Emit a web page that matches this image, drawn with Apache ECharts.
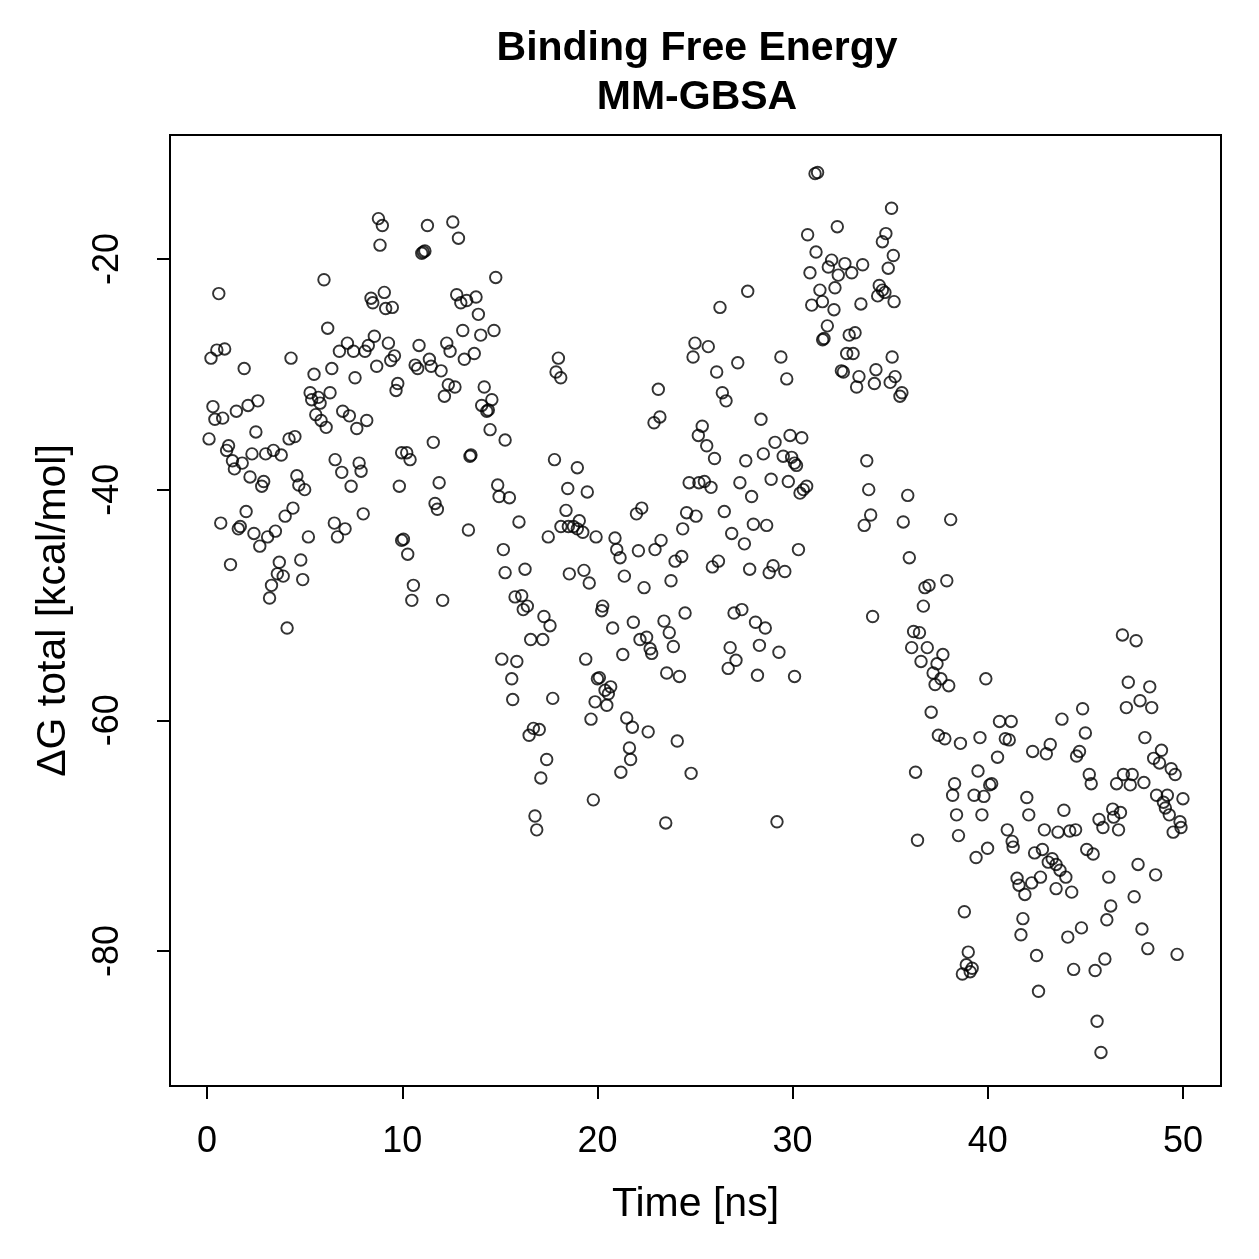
<!DOCTYPE html>
<html>
<head>
<meta charset="utf-8">
<title>Binding Free Energy MM-GBSA</title>
<script src="https://cdn.jsdelivr.net/npm/echarts@6/dist/echarts.min.js"></script>
<style>
  html, body { margin: 0; padding: 0; background: #fff; }
  #chart { width: 1259px; height: 1259px; }
</style>
</head>
<body>
<div id="chart"></div>
<script>
// simulation time [ns] and total binding free energy [kcal/mol]
const timeNs = [
  0.1, 0.2, 0.3, 0.4, 0.5, 0.6, 0.7, 0.8, 0.9, 1.0,
  1.1, 1.2, 1.3, 1.4, 1.5, 1.6, 1.7, 1.8, 1.9, 2.0,
  2.1, 2.2, 2.3, 2.4, 2.5, 2.6, 2.7, 2.8, 2.9, 3.0,
  3.1, 3.2, 3.3, 3.4, 3.5, 3.6, 3.7, 3.8, 3.9, 4.0,
  4.1, 4.2, 4.3, 4.4, 4.5, 4.6, 4.7, 4.8, 4.9, 5.0,
  5.19, 5.28, 5.36, 5.48, 5.57, 5.70, 5.79, 5.84, 5.99, 6.10,
  6.18, 6.30, 6.39, 6.52, 6.56, 6.68, 6.78, 6.90, 6.95, 7.07,
  7.19, 7.29, 7.38, 7.50, 7.58, 7.67, 7.79, 7.89, 8.00, 8.09,
  8.18, 8.26, 8.40, 8.49, 8.57, 8.69, 8.78, 8.86, 8.98, 9.08,
  9.15, 9.29, 9.41, 9.49, 9.60, 9.68, 9.77, 9.85, 9.97, 9.97,
  10.06, 10.23, 10.28, 10.40, 10.49, 10.57, 10.66, 10.79, 10.86, 11.00,
  11.08, 11.16, 11.29, 11.39, 11.48, 11.59, 11.68, 11.80, 11.89, 11.99,
  12.07, 12.16, 12.28, 12.36, 12.45, 12.59, 12.70, 12.79, 12.88, 13.00,
  13.10, 13.18, 13.30, 13.39, 13.47, 13.52, 13.69, 13.78, 13.90, 14.02,
  14.07, 14.20, 14.33, 14.41, 14.50, 14.59, 14.70, 14.79, 14.89, 14.96,
  15.27,
  15.10, 15.18, 15.27, 15.49, 15.61, 15.66, 15.78, 15.87, 15.98, 16.12,
  16.20, 16.29, 16.41, 16.50, 16.58, 16.72, 16.80, 16.89, 17.02, 17.10,
  17.20, 17.26, 17.40, 17.48, 17.57, 17.71, 17.80, 17.88, 18.00, 18.12,
  18.13, 18.39, 18.48, 18.51, 18.56, 18.77, 18.97, 18.97, 19.07, 19.25,
  19.31, 19.40, 19.48, 19.58, 19.67, 19.79, 19.88, 19.93, 20.00,
  20.10, 20.22, 20.27, 20.39, 20.48, 20.56, 20.68, 20.78, 20.90,
  20.99, 21.16, 21.20, 21.30, 21.38, 21.50, 21.64, 21.70, 21.79, 21.84,
  22.00, 22.10, 22.18, 22.27, 22.39, 22.52, 22.60, 22.70, 22.78, 22.90,
  22.95, 23.12, 23.20, 23.26, 23.41, 23.50, 23.55, 23.68, 23.77, 23.89,
  23.98, 24.09, 24.20, 24.32, 24.37, 24.49, 24.57, 24.70, 24.80, 24.90,
  25.00, 25.05, 25.20,
  25.17, 25.37, 25.48, 25.60, 25.68, 25.82, 25.89, 26.00, 26.11, 26.20,
  26.28, 26.40, 26.50, 26.59, 26.70, 26.80, 26.88, 27.00, 27.10, 27.19,
  27.30, 27.40, 27.53, 27.60, 27.70, 27.80, 27.90, 27.99, 28.10, 28.20,
  28.30, 28.38, 28.50, 28.60, 28.67, 28.80, 28.90, 29.00, 29.10, 29.20,
  29.30, 29.40, 29.52, 29.60, 29.70, 29.78, 29.87, 29.95, 30.10, 30.10,
  30.20, 30.30, 30.38, 30.47, 30.55, 30.72, 30.77, 30.89, 30.98, 31.15,
  31.28, 31.20, 31.40, 31.53, 31.54, 31.61, 31.78, 31.83, 32.00, 32.12,
  32.17, 32.29, 32.34, 32.50, 32.60, 32.68, 32.77, 32.90, 33.03, 33.10,
  33.20, 33.28, 33.40, 33.50, 33.59, 33.67, 33.80, 33.90, 34.00, 34.10,
  34.19, 34.27, 34.36, 34.44, 34.60, 34.60, 34.73, 34.78, 34.90, 35.00,
  35.07, 35.10, 35.16, 35.20, 35.25,
  35.50, 35.60, 35.67, 35.90, 35.98, 36.10, 36.20, 36.30, 36.40, 36.50,
  36.58, 36.70, 36.78, 36.90, 36.99, 37.10, 37.20, 37.30, 37.40, 37.47,
  37.60, 37.70, 37.80, 37.90, 38.00, 38.10, 38.20, 38.30, 38.40, 38.50,
  38.60, 38.70, 38.80, 38.90, 39.00, 39.10, 39.20, 39.30, 39.40, 39.50,
  39.60, 39.70, 39.80, 39.90, 39.99, 40.10, 40.20,
  40.50, 40.60, 40.90, 41.00, 41.10, 41.20, 41.25, 41.30, 41.50, 41.60,
  41.70, 41.80, 41.90, 42.00, 42.10, 42.25, 42.30, 42.40, 42.50, 42.60,
  42.70, 42.80, 42.90, 43.00, 43.10, 43.20, 43.30, 43.50, 43.50, 43.60,
  43.70, 43.80, 43.90, 44.00, 44.10, 44.20, 44.30, 44.40, 44.50, 44.55,
  44.70, 44.80, 44.86, 45.00,
  45.07, 45.20, 45.30, 45.40, 45.50, 45.60, 45.70, 45.80, 45.90, 46.00,
  46.10, 46.20, 46.30, 46.40, 46.45, 46.60, 46.70, 46.80, 46.90, 46.95,
  47.10, 47.20, 47.30, 47.40, 47.50, 47.60, 47.70, 47.80, 47.90, 48.00,
  48.05, 48.20, 48.30, 48.40, 48.50, 48.60, 48.65, 48.80, 48.90, 49.00,
  49.10, 49.20, 49.30, 49.40, 49.50, 49.60, 49.70, 49.85, 49.90, 50.00
]

const deltaG = [
  -35.6, -28.6, -32.8, -33.9, -27.9, -23.0, -42.9, -33.8, -27.8, -36.6,
  -36.2, -46.5, -37.5, -38.2, -33.2, -43.4, -43.2, -37.7, -29.5, -41.9,
  -32.7, -38.9, -36.9, -43.8, -35.0, -32.3, -44.9, -39.7, -39.3, -36.9,
  -44.1, -49.4, -48.3, -36.6, -43.6, -47.3, -46.3, -37.0, -47.5, -42.3,
  -52.0, -35.6, -28.6, -41.6, -35.4, -38.8, -39.6, -46.1, -47.8, -40.0,
  -44.1, -31.6, -32.2, -30.0, -33.5, -32.0, -32.5, -34.0, -21.8, -34.6,
  -26.0, -31.6, -29.5, -42.9, -37.4, -44.1, -28.0, -38.5, -33.2, -43.4,
  -27.3, -33.6, -39.7, -28.0, -30.3, -34.7, -37.7, -38.4, -42.1, -28.0,
  -34.0, -27.5, -23.4, -23.8, -26.7, -29.3, -16.5, -18.8, -17.1, -22.9,
  -24.3, -27.3, -28.8, -24.2, -28.4, -31.4, -30.8, -39.7, -36.8, -44.4,
  -44.3, -36.8, -45.6, -37.4, -49.6, -48.3, -29.2, -29.5, -27.5, -19.5,
  -19.4, -19.3, -17.1, -28.7, -29.3, -35.9, -41.2, -41.7, -39.4, -29.7,
  -49.6, -31.9, -27.3, -30.9, -28.0, -16.8, -31.1, -23.1, -18.2, -23.8,
  -26.2, -28.7, -23.6, -43.5, -37.1, -37.0, -28.2, -23.3, -24.8, -26.6,
  -32.7, -31.1, -33.2, -33.1, -34.8, -32.2, -26.2, -21.6, -39.6, -40.6,
  -35.7,
  -54.7, -45.2, -47.2, -40.7, -56.4, -58.2, -49.3, -54.9, -42.8, -49.2,
  -50.4, -46.9, -50.1, -61.3, -53.0, -60.7, -68.3, -69.5, -60.8, -65.0,
  -53.0, -51.0, -63.4, -44.1, -51.8, -58.1, -37.4, -29.8, -28.6, -30.3,
  -43.2, -41.8, -39.9, -43.2, -47.3, -43.2, -38.1, -43.4, -42.7, -43.7,
  -47.0, -54.7, -40.2, -48.1, -59.9, -66.9, -58.4, -44.1, -56.4,
  -56.3, -50.5, -50.1, -57.4, -58.7, -57.7, -57.1, -52.0, -44.2,
  -45.2, -45.9, -64.5, -54.3, -47.5, -59.8, -62.4, -63.4, -60.6, -51.5,
  -42.1, -45.3, -53.0, -41.6, -48.5, -52.8, -61.0, -53.8, -54.2, -34.2,
  -45.2, -31.3, -33.7, -44.4, -51.4, -68.9, -55.9, -52.4, -47.9, -53.6,
  -46.2, -61.8, -56.2, -45.8, -43.4, -50.7, -42.0, -39.4, -64.6, -28.5,
  -27.3, -42.3, -39.4,
  -35.3, -34.5, -39.3, -36.2, -27.6, -39.8, -46.7, -37.3, -29.8, -46.2,
  -24.2, -31.6, -41.9, -32.3, -55.5, -53.7, -43.8, -50.7, -54.8, -29.0,
  -39.4, -50.4, -44.7, -37.5, -22.8, -46.9, -40.6, -43.0, -51.5, -56.1,
  -53.5, -33.9, -36.9, -52.0, -43.1, -47.2, -39.1, -46.6, -35.9, -68.8,
  -54.1, -28.5, -37.1, -47.1, -30.4, -39.3, -35.3, -37.2, -37.7, -56.2,
  -37.9, -45.2, -40.3, -35.5, -40.0, -39.7, -17.9, -21.2, -24.0, -12.6,
  -12.5, -19.4, -22.7, -23.7, -27.0, -26.9, -25.8, -20.7, -20.1, -24.4,
  -22.5, -17.2, -21.4, -29.7, -29.8, -20.4, -28.2, -26.6, -21.2, -28.2,
  -26.4, -31.1, -30.2, -23.9, -20.5, -43.1, -37.5, -40.0, -42.2, -51.0,
  -30.8, -29.6, -23.2, -22.3, -18.5, -22.7, -22.9, -17.8, -20.8, -30.7,
  -15.6, -28.5, -19.7, -23.7, -30.2,
  -31.9, -31.6, -42.8, -40.5, -45.9, -53.7, -52.3, -64.5, -70.4, -52.4,
  -54.9, -50.1, -48.5, -53.7, -48.3, -59.3, -55.9, -56.9, -55.1, -61.3,
  -56.4, -54.3, -61.6, -47.9, -57.0, -42.6, -66.5, -65.5, -68.2, -70.0,
  -62.0, -82.0, -76.6, -81.2, -80.1, -81.8, -81.5, -66.5, -71.9, -64.4,
  -61.5, -68.2, -66.6, -56.4, -71.1, -65.6, -65.5,
  -63.2, -60.1, -61.6, -69.5, -61.7, -60.1, -70.5, -71.0, -73.7, -74.3,
  -78.6, -77.2, -75.1, -66.7, -68.2, -74.1, -62.7, -71.5, -80.4, -83.5,
  -73.6, -71.2, -69.5, -62.9, -72.3, -62.1, -72.0, -72.5, -74.6, -69.7,
  -73.0, -59.9, -67.8, -73.6, -78.8, -69.6, -74.9, -81.6, -69.5, -63.1,
  -62.7, -78.0, -59.0, -61.1,
  -71.2, -64.7, -65.5, -71.6, -81.7, -86.1, -68.6, -88.8, -69.3, -80.7,
  -77.3, -73.6, -76.1, -67.7, -68.4, -65.5, -69.5, -68.0, -52.6, -64.7,
  -58.9, -56.7, -65.6, -64.7, -75.3, -53.1, -72.5, -58.3, -78.1, -65.4,
  -61.5, -79.8, -57.1, -58.9, -63.3, -73.4, -66.5, -63.7, -62.6, -67.1,
  -67.6, -66.5, -68.2, -64.2, -69.7, -64.7, -80.3, -68.8, -69.3, -66.8
]

const xTicks = [0, 10, 20, 30, 40, 50]
const yTicks = [-80, -60, -40, -20]

const FONT = '"Liberation Sans", Arial, Helvetica, sans-serif'

const chart = echarts.init(document.getElementById('chart'))

const points = timeNs.map((t, i) => [t, deltaG[i]])

chart.setOption({
  animation: false,
  backgroundColor: '#ffffff',
  textStyle: { fontFamily: FONT, color: '#000' },
  title: {
    text: 'Binding Free Energy\nMM-GBSA',
    left: 692,
    top: 19,
    textAlign: 'center',
    textStyle: { fontFamily: FONT, fontSize: 41, fontWeight: 'bold', color: '#000', lineHeight: 49 }
  },
  grid: {
    left: 170,
    top: 135,
    width: 1051,
    height: 951,
    show: true,
    borderColor: '#000',
    borderWidth: 2,
    backgroundColor: 'transparent'
  },
  xAxis: {
    type: 'value',
    min: -1.9,
    max: 51.95,
    name: 'Time [ns]',
    nameLocation: 'middle',
    nameGap: 98,
    nameTextStyle: { fontFamily: FONT, fontSize: 41, color: '#000' },
    axisLine: { show: false, onZero: false },
    axisTick: { show: true, length: 13, lineStyle: { color: '#000', width: 2 }, customValues: xTicks },
    axisLabel: { fontFamily: FONT, fontSize: 36, color: '#000', margin: 38, customValues: xTicks },
    splitLine: { show: false }
  },
  yAxis: {
    type: 'value',
    min: -91.71,
    max: -9.25,
    name: 'ΔG total [kcal/mol]',
    nameLocation: 'middle',
    nameGap: 96,
    nameTextStyle: { fontFamily: FONT, fontSize: 41, color: '#000' },
    axisLine: { show: false, onZero: false },
    axisTick: { show: true, length: 13, lineStyle: { color: '#000', width: 2 }, customValues: yTicks },
    axisLabel: { fontFamily: FONT, fontSize: 36, color: '#000', margin: 44, rotate: 90, customValues: yTicks },
    splitLine: { show: false }
  },
  series: [
    {
      type: 'scatter',
      data: points,
      symbol: 'circle',
      symbolSize: 11.5,
      silent: true,
      itemStyle: { color: 'rgba(0,0,0,0)', borderColor: '#000', borderWidth: 1.9 },
      emphasis: { disabled: true }
    }
  ]
})
</script>
</body>
</html>
